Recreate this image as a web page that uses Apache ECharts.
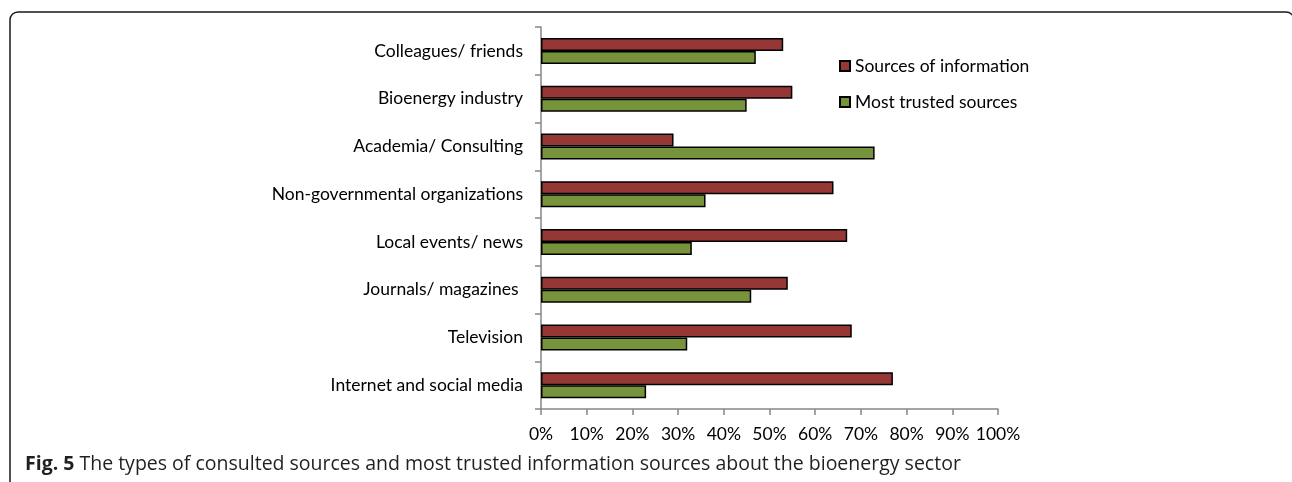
<!DOCTYPE html>
<html>
<head>
<meta charset="utf-8">
<script src="https://cdn.jsdelivr.net/npm/echarts@6/dist/echarts.min.js"></script>
<style>
html,body{margin:0;padding:0;background:#fff;}
#chart{width:1292px;height:482px;}
</style>
</head>
<body>
<div id="chart"></div>
<script>
var categories = ['Internet and social media', 'Television', 'Journals/ magazines ', 'Local events/ news', 'Non-governmental organizations', 'Academia/ Consulting', 'Bioenergy industry', 'Colleagues/ friends'];
var sourcesOfInformation = [77, 68, 54, 67, 64, 29, 55, 53];
var mostTrustedSources = [23, 32, 46, 33, 36, 73, 45, 47];
var xTicks = [0, 10, 20, 30, 40, 50, 60, 70, 80, 90, 100];
var seriesNames = ['Sources of information', 'Most trusted sources'];
var captionBold = 'Fig. 5';
var captionText = 'The types of consulted sources and most trusted information sources about the bioenergy sector';

var chart = echarts.init(document.getElementById('chart'));
var font = 'Lato';
var fs = 17.5;
chart.setOption({
  animation: false,
  backgroundColor: '#fff',
  grid: {left: 541, right: 294, top: 27, bottom: 73, containLabel: false},
  title: {
    text: '{b|' + captionBold + '} {n|' + captionText + '}',
    left: 20, top: 449,
    textStyle: {
      fontWeight: 'normal',
      rich: {
        b: {fontFamily: 'Open Sans', fontWeight: 'bold', fontSize: 19.5, color: '#231f20'},
        n: {fontFamily: 'Open Sans', fontWeight: 'normal', fontSize: 19.5, color: '#231f20'}
      }
    }
  },
  legend: {
    data: seriesNames,
    orient: 'vertical',
    left: 834, top: 52,
    itemWidth: 10, itemHeight: 10, itemGap: 18,
    icon: 'rect',
    textStyle: {fontFamily: font, fontSize: fs, color: '#000'}
  },
  xAxis: {
    type: 'value', min: xTicks[0], max: xTicks[xTicks.length - 1], interval: 10,
    axisLine: {show: true, lineStyle: {color: '#868686', width: 1.5}},
    axisTick: {show: true, length: 6, lineStyle: {color: '#868686', width: 1.5}},
    splitLine: {show: false},
    axisLabel: {formatter: '{value}%', fontFamily: font, fontSize: fs, color: '#000', margin: 16}
  },
  yAxis: {
    type: 'category', data: categories,
    axisLine: {show: true, lineStyle: {color: '#868686', width: 1.5}},
    axisTick: {show: true, length: 6, lineStyle: {color: '#868686', width: 1.5}},
    axisLabel: {fontFamily: font, fontSize: fs, color: '#000', margin: 18}
  },
  series: [
    {name: seriesNames[0], type: 'bar', data: sourcesOfInformation, barWidth: 13, barGap: '0%',
     itemStyle: {color: '#953735', borderColor: '#000', borderWidth: 1.5}},
    {name: seriesNames[1], type: 'bar', data: mostTrustedSources, barWidth: 13, barGap: '0%',
     itemStyle: {color: '#77933C', borderColor: '#000', borderWidth: 1.5}}
  ],
  graphic: [{
    type: 'rect', silent: true,
    shape: {x: 10, y: 12, width: 1284, height: 520, r: 8},
    style: {fill: 'none', stroke: '#1a1a1a', lineWidth: 1.5}
  }]
});
</script>
</body>
</html>
